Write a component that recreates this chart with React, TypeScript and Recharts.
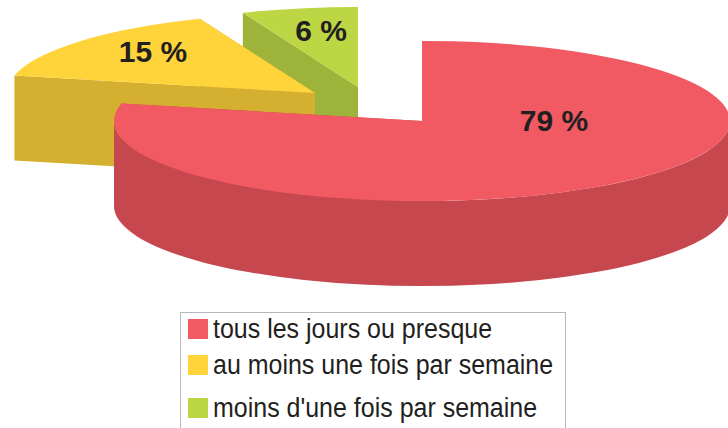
import { PieChart, Pie, Legend } from 'recharts';

const categories = ['tous les jours ou presque', 'au moins une fois par semaine', "moins d'une fois par semaine"];
const values = [78.5, 15.4, 6.1];
const topColors = ['#F15A63', '#FFD33A', '#BCD644'];
const sideColors = ['#C6474E', '#D5B030', '#9EB33A'];

// pie is drawn back to front, so the last category comes first
const pieData = categories
  .map((name, i) => ({ name, value: values[i], fill: topColors[i] }))
  .reverse();

const FLATTEN = 0.26;
const DEPTH = 85;
const explode = [[0, 0], [-107, -28], [-64, -34]];
const labelShift = [[132, -1], [-269, -70], [-101, -91]];
const legendY = [319, 355, 398];

function Slice3D(props: any) {
  const { cx, cy, outerRadius, startAngle, endAngle, name } = props;
  const i = categories.indexOf(name);
  const ox = cx + explode[i][0];
  const oy = cy + explode[i][1];
  const rx = outerRadius;
  const ry = outerRadius * FLATTEN;
  const pt = (deg: number) => {
    const r = (deg * Math.PI) / 180;
    return [ox + rx * Math.cos(r), oy - ry * Math.sin(r)];
  };
  const [sx, sy] = pt(startAngle);
  const [ex, ey] = pt(endAngle);
  const large = endAngle - startAngle > 180 ? 1 : 0;
  const top = `M${ox},${oy} L${sx},${sy} A${rx},${ry} 0 ${large} 0 ${ex},${ey} Z`;
  const wall = (x: number, y: number) =>
    `M${ox},${oy} L${x},${y} L${x},${y + DEPTH} L${ox},${oy + DEPTH} Z`;

  // outer rim is only seen on the lower half of the ellipse
  const a = Math.max(startAngle, 180);
  const b = Math.min(endAngle, 360);
  let rim = '';
  if (b > a) {
    const [ax, ay] = pt(a);
    const [bx, by] = pt(b);
    rim = `M${ax},${ay} A${rx},${ry} 0 0 0 ${bx},${by} L${bx},${by + DEPTH} A${rx},${ry} 0 0 1 ${ax},${ay + DEPTH} Z`;
  }

  return (
    <g>
      <path d={wall(sx, sy)} fill={sideColors[i]} />
      <path d={wall(ex, ey)} fill={sideColors[i]} />
      {rim && <path d={rim} fill={sideColors[i]} />}
      <path d={top} fill={topColors[i]} />
    </g>
  );
}

function renderLabel(props: any) {
  const { cx, cy, name, value } = props;
  const i = categories.indexOf(name);
  return (
    <text
      x={cx + labelShift[i][0]}
      y={cy + labelShift[i][1]}
      textAnchor="middle"
      dominantBaseline="central"
      fontFamily="Liberation Sans"
      fontWeight="bold"
      fontSize={30}
      fill="#231F20"
    >
      {Math.round(value)} %
    </text>
  );
}

function LegendBox() {
  return (
    <div
      style={{
        position: 'absolute',
        left: 180,
        top: 312,
        width: 386,
        height: 116,
        boxSizing: 'border-box',
        border: '1px solid #B8B8B8',
        borderBottom: 'none',
        background: '#fff',
      }}
    >
      {categories.map((name, i) => (
        <div key={name}>
          <div
            style={{
              position: 'absolute',
              left: 7,
              top: legendY[i] - 313,
              width: 20,
              height: 20,
              background: topColors[i],
            }}
          />
          <div
            style={{
              position: 'absolute',
              left: 32,
              top: legendY[i] - 318,
              fontFamily: 'Liberation Sans',
              fontSize: 27,
              lineHeight: '30px',
              color: '#231F20',
              whiteSpace: 'nowrap',
              transform: 'scaleX(0.925)',
              transformOrigin: 'left center',
            }}
          >
            {name}
          </div>
        </div>
      ))}
    </div>
  );
}

export default function App() {
  return (
    <div style={{ position: 'absolute', left: 0, top: 0, width: 728, height: 428, overflow: 'hidden', background: '#fff' }}>
      <PieChart width={728} height={428} margin={{ top: 0, right: 0, bottom: 0, left: 0 }}>
        <Pie
          data={pieData}
          dataKey="value"
          nameKey="name"
          cx={422}
          cy={121}
          outerRadius={308}
          startAngle={90}
          endAngle={450}
          stroke="none"
          shape={Slice3D}
          label={renderLabel}
          labelLine={false}
          isAnimationActive={false}
        />
        <Legend content={() => <LegendBox />} wrapperStyle={{ position: 'static' }} />
      </PieChart>
    </div>
  );
}
